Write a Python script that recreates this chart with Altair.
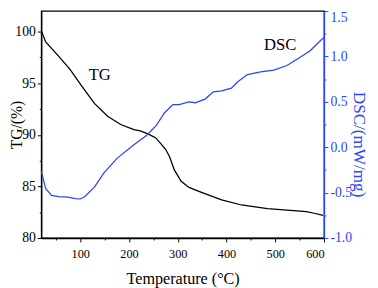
import altair as alt
import pandas as pd

# ---- data ----
tg_temp = [20, 29, 56, 79, 102, 129, 156, 183, 210, 223, 240, 255, 266, 275, 283, 293, 307, 323, 350, 390, 431, 484, 551, 564, 580, 598]
tg_val = [100.1, 99.0, 97.6, 96.35, 94.8, 93.05, 91.8, 91.0, 90.5, 90.38, 90.07, 89.7, 89.1, 88.6, 87.9, 86.6, 85.5, 84.9, 84.4, 83.7, 83.2, 82.85, 82.6, 82.55, 82.4, 82.2]

dsc_temp = [20, 29, 41, 56, 75, 90, 100, 109, 129, 149, 176, 210, 236, 256, 273, 290, 303, 323, 336, 356, 373, 390, 410, 423, 443, 470, 497, 524, 551, 571, 594, 600]
dsc_val = [-0.26, -0.455, -0.53, -0.545, -0.55, -0.565, -0.57, -0.545, -0.44, -0.28, -0.12, 0.026, 0.13, 0.24, 0.38, 0.47, 0.47, 0.50, 0.49, 0.53, 0.61, 0.62, 0.65, 0.72, 0.80, 0.83, 0.85, 0.90, 0.99, 1.06, 1.18, 1.21]

tg_label = ["TG"]
tg_label_x = [140]
tg_label_y = [95.8]
dsc_label = ["DSC"]
dsc_label_x = [510]
dsc_label_y = [1.12]

x_ticks = [50, 100, 150, 200, 250, 300, 350, 400, 450, 500, 550, 600]
tg_ticks = [80, 82.5, 85, 87.5, 90, 92.5, 95, 97.5, 100]
dsc_ticks = [-1.0, -0.75, -0.5, -0.25, 0.0, 0.25, 0.5, 0.75, 1.0, 1.25, 1.5]

BLUE = "#2b44ff"
FONT = "Liberation Serif"

tg_df = pd.DataFrame({"T": tg_temp, "v": tg_val})
dsc_df = pd.DataFrame({"T": dsc_temp, "v": dsc_val})
tgl_df = pd.DataFrame({"T": tg_label_x, "v": tg_label_y, "t": tg_label})
dscl_df = pd.DataFrame({"T": dsc_label_x, "v": dsc_label_y, "t": dsc_label})

xscale = alt.Scale(domain=[20, 600], nice=False, zero=False)
xaxis = alt.Axis(
    title="Temperature (°C)", values=x_ticks, labelOverlap=False,
    labelExpr="datum.value % 100 === 0 ? '' + datum.value : ''",
    tickSize={"condition": {"test": "datum.value % 100 === 0", "value": 4}, "value": 2},
    labelFontSize=12.5, titleFontSize=16.5, labelPadding=6,
    titleY=41, titleBaseline="middle",
)
tg_scale = alt.Scale(domain=[80, 102], nice=False, zero=False)
tg_axis = alt.Axis(
    title="TG/(%)", values=tg_ticks, labelOverlap=False,
    labelExpr="datum.value % 5 === 0 ? datum.label : ''",
    tickSize={"condition": {"test": "datum.value % 5 === 0", "value": 4}, "value": 2},
    labelFontSize=14, titleFontSize=16, labelPadding=2,
    titleX=-25, titleBaseline="middle",
)
dsc_scale = alt.Scale(domain=[-1.0, 1.5], nice=False, zero=False)
dsc_axis = alt.Axis(
    title="DSC/(mW/mg)", orient="right", values=dsc_ticks, labelOverlap=False,
    labelExpr="abs(datum.value*2 - round(datum.value*2)) < 0.01 ? (datum.value < 0 ? '-' + format(-datum.value, '.1f') : format(datum.value, '.1f')) : ''",
    tickSize={"condition": {"test": "abs(datum.value*2 - round(datum.value*2)) < 0.01", "value": 4}, "value": 2},
    labelBaseline={"condition": {"test": "datum.value > 1.4", "value": "top"}, "value": "middle"},
    labelFontSize=14, titleFontSize=17.5, labelPadding=2,
    domainColor=BLUE, tickColor=BLUE, labelColor=BLUE, titleColor=BLUE,
    titleX=35, titleY=136, titleBaseline="middle",
)

tg_line = alt.Chart(tg_df).mark_line(color="black", strokeWidth=1.3).encode(
    x=alt.X("T:Q", scale=xscale, axis=xaxis),
    y=alt.Y("v:Q", scale=tg_scale, axis=tg_axis),
)
tg_text = alt.Chart(tgl_df).mark_text(font=FONT, fontSize=17, color="black").encode(
    x=alt.X("T:Q", scale=xscale, axis=xaxis),
    y=alt.Y("v:Q", scale=tg_scale, axis=tg_axis),
    text="t:N",
)
dsc_line = alt.Chart(dsc_df).mark_line(color=BLUE, strokeWidth=1.3).encode(
    x=alt.X("T:Q", scale=xscale, axis=xaxis),
    y=alt.Y("v:Q", scale=dsc_scale, axis=dsc_axis),
)
dsc_text = alt.Chart(dscl_df).mark_text(font=FONT, fontSize=17, color="black").encode(
    x=alt.X("T:Q", scale=xscale, axis=xaxis),
    y=alt.Y("v:Q", scale=dsc_scale, axis=dsc_axis),
    text="t:N",
)

chart = alt.layer(
    alt.layer(tg_line, tg_text),
    alt.layer(dsc_line, dsc_text),
).resolve_scale(y="independent").properties(
    width=289, height=232,
    autosize=alt.AutoSizeParams(type="none"),
    padding={"left": 34, "top": 0, "right": 47, "bottom": 48},
).configure_view(stroke="black", strokeWidth=1.3).configure_axis(
    grid=False, domainColor="black", tickColor="black", labelColor="black",
    titleColor="black", labelFont=FONT, titleFont=FONT, titleFontWeight="normal",
    domainWidth=1.3, tickWidth=1,
)

chart.save("out.html", embed_options={"renderer": "svg", "actions": False})
